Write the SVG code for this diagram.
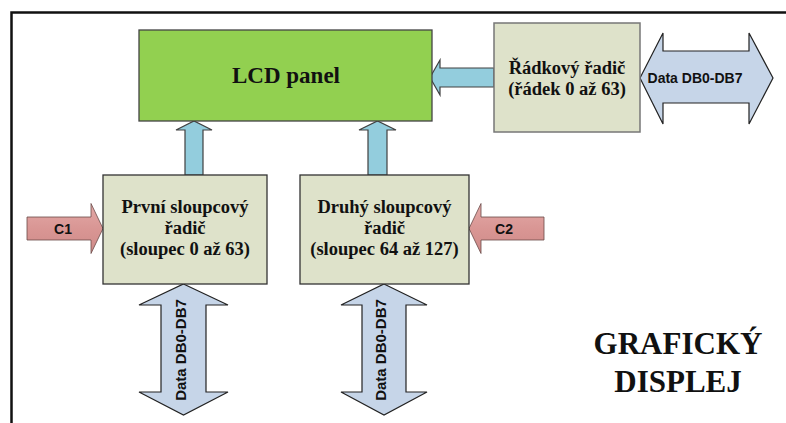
<svg xmlns="http://www.w3.org/2000/svg" width="786" height="423" viewBox="0 0 786 423">
<defs>
<linearGradient id="gC" x1="0" y1="0" x2="0" y2="1">
<stop offset="0" stop-color="#e3a9a7"/>
<stop offset="0.5" stop-color="#d99694"/>
<stop offset="1" stop-color="#cf8a88"/>
</linearGradient>
<style>
.frame{fill:none;stroke:#111;stroke-width:2.5}
.box{fill:#dee2ca;stroke:#333;stroke-width:1.3}
.box2{fill:#dee2ca;stroke:#777;stroke-width:1.5}
.lcd{fill:#92d050;stroke:#444;stroke-width:1.3}
.up{fill:#93cddd;stroke:#404040;stroke-width:1.2}
.data{fill:#c6d5e8;stroke:#222;stroke-width:1.2}
.ctl{fill:url(#gC);stroke:#6a4a48;stroke-width:0.8}
.tb{font-family:"Liberation Serif","Times New Roman",serif;font-weight:bold;fill:#111;text-anchor:middle}
.ta{font-family:"Liberation Sans",Arial,sans-serif;font-weight:bold;fill:#111;text-anchor:middle}
</style>
</defs>
<path class="frame" d="M11.5,423 V12.5 H786"/>
<g id="connectors">
<path class="up" d="M185,175 V130 H176 L194,121 L212,130 H203 V175 Z"/>
<path class="up" d="M368,175 V130 H359 L377.5,121 L396,130 H387 V175 Z"/>
<path class="up" d="M494,68 H440 V60 L430,77.5 L440,95 V87 H494 Z"/>
<path class="data" d="M640,78 L663,33 V51 H749 V33 L773,78 L749,124 V103 H663 V124 Z"/>
<path class="data" d="M183.5,284 L228,305 H206 V392 H228 L183.5,415 L139,392 H161 V305 H139 Z"/>
<path class="data" d="M384,284 L427,305 H406 V392 H427 L384,415 L341,392 H362 V305 H341 Z"/>
<path class="ctl" d="M27,217 H91 V203.5 L103,228.5 L91,253.5 V240 H27 Z"/>
<path class="ctl" d="M544,217 H481 V203.5 L469,228.5 L481,253.5 V240 H544 Z"/>
<text class="ta" x="695" y="83" font-size="14">Data DB0-DB7</text>
<text class="ta" font-size="15" transform="translate(186,350) rotate(-90)">Data DB0-DB7</text>
<text class="ta" font-size="15" transform="translate(386,350) rotate(-90)">Data DB0-DB7</text>
<text class="ta" x="63" y="234" font-size="14">C1</text>
<text class="ta" x="504" y="234" font-size="14">C2</text>
</g>
<g id="lcd">
<rect class="lcd" x="139" y="30" width="293" height="91"/>
<text class="tb" x="286" y="83" font-size="23">LCD panel</text>
</g>
<g id="radkovy">
<rect class="box2" x="494" y="23" width="146" height="109"/>
<text class="tb" x="567" y="74" font-size="18.5">Řádkový řadič</text>
<text class="tb" x="567" y="95" font-size="18.5">(řádek 0 až 63)</text>
</g>
<g id="sloupcovy1">
<rect class="box" x="103" y="175" width="164" height="109"/>
<text class="tb" x="185" y="213" font-size="18.5">První sloupcový</text>
<text class="tb" x="185" y="234" font-size="18.5">řadič</text>
<text class="tb" x="185" y="255" font-size="18.5">(sloupec 0 až 63)</text>
</g>
<g id="sloupcovy2">
<rect class="box" x="300" y="175" width="169" height="109"/>
<text class="tb" x="384.5" y="213" font-size="18.5">Druhý sloupcový</text>
<text class="tb" x="384.5" y="234" font-size="18.5">řadič</text>
<text class="tb" x="384.5" y="255" font-size="18.5">(sloupec 64 až 127)</text>
</g>
<g id="title">
<text class="tb" x="678" y="354" font-size="31">GRAFICKÝ</text>
<text class="tb" x="678" y="392" font-size="31">DISPLEJ</text>
</g>
</svg>
